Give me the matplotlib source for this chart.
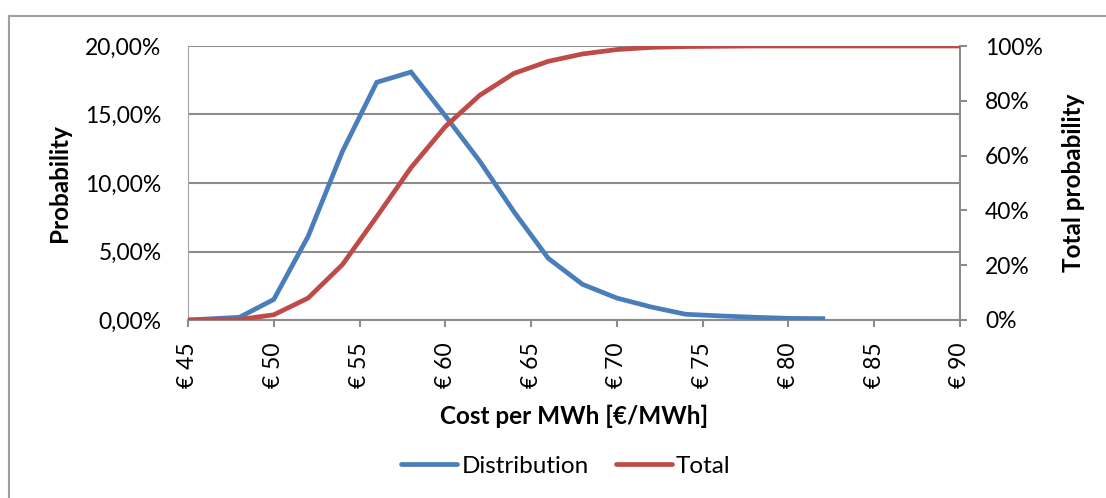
import matplotlib.pyplot as plt
from matplotlib.ticker import FuncFormatter, MultipleLocator
from matplotlib.lines import Line2D

plt.rcParams['font.family'] = ['Lato', 'DejaVu Sans']

# cost per MWh (EUR) and probabilities in %
cost_dist = [45, 48, 50, 52, 54, 56, 58, 60, 62, 64, 66, 68, 70, 72, 74, 76, 78, 80, 82]
distribution = [0.0, 0.2, 1.5, 6.1, 12.3, 17.35, 18.1, 14.9, 11.6, 7.9, 4.5, 2.6, 1.6,
                0.95, 0.42, 0.3, 0.2, 0.12, 0.1]

cost_total = [45, 48, 50, 52, 54, 56, 58, 60, 62, 64, 66, 68, 70, 72, 74, 76, 78, 80, 82,
              84, 86, 88, 90]
total = [0.0, 0.2, 1.9, 8.0, 20.2, 37.7, 55.6, 70.6, 82.0, 90.0, 94.4, 97.1, 98.7, 99.5,
         99.8, 99.9, 100, 100, 100, 100, 100, 100, 100]

x_ticks = [45, 50, 55, 60, 65, 70, 75, 80, 85, 90]

blue = '#4A7EBB'
red = '#BE4B48'
grey = '#8C8C8C'

W, H = 1106, 498
fig = plt.figure(figsize=(W / 100, H / 100), dpi=100)

# outer frame (left and top edges)
fig.add_artist(Line2D([9 / W, 9 / W], [0, 1 - 16 / H], color='#A0A0A0', lw=1.5))
fig.add_artist(Line2D([9 / W, 1], [1 - 16 / H, 1 - 16 / H], color='#A0A0A0', lw=1.5))

x0, x1, y0, y1 = 188, 960, 320, 46
ax = fig.add_axes([x0 / W, 1 - y0 / H, (x1 - x0) / W, (y0 - y1) / H])
ax2 = ax.twinx()

ax.plot(cost_dist, distribution, color=blue, lw=3.4, solid_joinstyle='miter', zorder=3)
ax2.plot(cost_total, total, color=red, lw=3.4, solid_joinstyle='miter', zorder=3)

ax.set_xlim(45, 90)
ax.set_ylim(0, 20)
ax2.set_ylim(0, 100)
ax.set_xticks(x_ticks)
ax.set_xticklabels([f'€ {v}' for v in x_ticks], rotation=90)
ax.yaxis.set_major_locator(MultipleLocator(5))
ax2.yaxis.set_major_locator(MultipleLocator(20))
ax.yaxis.set_major_formatter(FuncFormatter(lambda v, p: f'{v:.2f}%'.replace('.', ',')))
ax2.yaxis.set_major_formatter(FuncFormatter(lambda v, p: f'{v:.0f}%'))

ax.grid(axis='y', color=grey, lw=1.5)
ax.set_axisbelow(True)
for a in (ax, ax2):
    for s in a.spines.values():
        s.set_visible(False)
    a.patch.set_visible(False)
ax.spines['left'].set_visible(True)
ax.spines['left'].set_color('#A6A6A6')
ax.spines['bottom'].set_visible(True)
ax.spines['bottom'].set_color(grey)
ax.spines['bottom'].set_linewidth(1.5)
ax2.spines['right'].set_visible(True)
ax2.spines['right'].set_color(grey)
ax2.spines['right'].set_linewidth(1.5)

ax.tick_params(axis='y', length=0, labelsize=16.5, pad=19)
ax.tick_params(axis='x', length=5, width=1.5, color=grey, labelsize=16.5, pad=11)
ax2.tick_params(axis='y', length=5, width=1.5, color=grey, labelsize=16.5, pad=13)

ax.set_ylabel('Probability', fontsize=17.5, fontweight='bold', labelpad=10)
ax2.set_ylabel('Total probability', fontsize=17.5, fontweight='bold', labelpad=14)
ax.set_xlabel('Cost per MWh [€/MWh]', fontsize=17.5, fontweight='bold', labelpad=12)

handles = [Line2D([], [], color=blue, lw=3.4, solid_capstyle='round'),
           Line2D([], [], color=red, lw=3.4, solid_capstyle='round')]
fig.legend(handles, ['Distribution', 'Total'], loc='center', bbox_to_anchor=(566 / W, 1 - 466 / H),
           ncol=2, frameon=False, fontsize=17.5, handlelength=2.3, handletextpad=0.18,
           columnspacing=1.1)

fig.savefig('out.png', dpi=100)
